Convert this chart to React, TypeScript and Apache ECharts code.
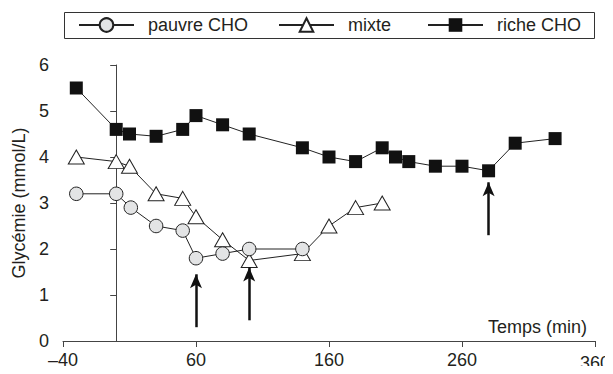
import React, { useEffect, useRef } from "react";
import * as echarts from "echarts";

const pauvreT = [-30, 0, 11, 30, 50, 60, 80, 100, 140];
const pauvreV = [3.2, 3.2, 2.9, 2.5, 2.4, 1.8, 1.9, 2.0, 2.0];

const mixteT = [-30, 0, 10, 30, 50, 60, 80, 100, 140, 160, 180, 200];
const mixteV = [4.0, 3.9, 3.8, 3.2, 3.1, 2.7, 2.2, 1.75, 1.9, 2.5, 2.9, 3.0];

const richeT = [-30, 0, 10, 30, 50, 60, 80, 100, 140, 160, 180, 200, 210, 220, 240, 260, 280, 300, 330];
const richeV = [5.5, 4.6, 4.5, 4.45, 4.6, 4.9, 4.7, 4.5, 4.2, 4.0, 3.9, 4.2, 4.0, 3.9, 3.8, 3.8, 3.7, 4.3, 4.4];

const seriesNames = ["pauvre CHO", "mixte", "riche CHO"];
const xTicks = [-40, 60, 160, 260, 360];
const yTicks = [0, 1, 2, 3, 4, 5, 6];

const arrowX = [60, 100, 280];
const arrowFrom = [0.3, 0.45, 2.3];
const arrowTo = [1.45, 1.6, 3.45];

const vLineX = 0;
const vLineTop = 6.07;

const FONT = "Liberation Sans, Arial, Helvetica, sans-serif";
const TXT = "#231f20";
const AX = "#444";
const legendLefts = [78, 278, 427];

const zip = (t: number[], v: number[]) => t.map((x, i) => [x, v[i]]);

export default function App() {
  const ref = useRef<HTMLDivElement>(null);
  useEffect(() => {
    if (!ref.current) return;
    const chart = echarts.init(ref.current, undefined, { renderer: "svg" });
    const arrows = arrowX.map((x, i) => [
      { coord: [x, arrowFrom[i]], symbol: "none" },
      { coord: [x, arrowTo[i]], symbol: "arrow", symbolSize: [9, 14] },
    ]);
    chart.setOption({
      animation: false,
      textStyle: { fontFamily: FONT, color: TXT },
      graphic: [
        {
          type: "rect",
          shape: { x: 64.5, y: 12.5, width: 530, height: 26 },
          style: { fill: "none", stroke: "#333", lineWidth: 1 },
          silent: true,
        },
      ],
      legend: seriesNames.map((n, i) => ({
        left: legendLefts[i],
        top: 16,
        padding: 0,
        itemWidth: 55,
        itemHeight: 17,
        lineStyle: { width: 2 },
        textStyle: { fontSize: 18, color: TXT, fontFamily: FONT, padding: [0, 0, 0, 9] },
        data: [n],
      })),
      grid: { left: 63, right: 17, top: 65, bottom: 33 },
      xAxis: {
        type: "value",
        min: -40,
        max: 360,
        name: "Temps (min)",
        nameLocation: "end",
        nameGap: -8,
        nameTextStyle: {
          fontSize: 18,
          color: TXT,
          align: "right",
          verticalAlign: "bottom",
          padding: [0, 0, 5, 0],
        },
        splitLine: { show: false },
        axisLine: { show: true, lineStyle: { color: AX, width: 1 } },
        axisTick: { show: true, length: 6, customValues: xTicks, lineStyle: { color: AX } },
        axisLabel: {
          customValues: xTicks,
          fontSize: 18,
          color: TXT,
          margin: 10,
          formatter: (v: number) =>
            v === 360 ? "{low|360}" : String(v).replace("-", "\u2013"),
          rich: { low: { fontSize: 18, color: TXT, padding: [3, 0, 0, 0] } },
        },
      },
      yAxis: {
        type: "value",
        min: 0,
        max: 6,
        interval: 1,
        name: "Glycémie (mmol/L)",
        nameLocation: "middle",
        nameGap: 32,
        nameTextStyle: { fontSize: 18, color: TXT },
        splitLine: { show: false },
        axisLine: { show: true, lineStyle: { color: AX, width: 1 } },
        axisTick: { show: true, length: 6, lineStyle: { color: AX } },
        axisLabel: {
          customValues: yTicks,
          fontSize: 18,
          color: TXT,
          margin: 14,
        },
      },
      series: [
        {
          name: seriesNames[0],
          type: "line",
          data: zip(pauvreT, pauvreV),
          symbol: "circle",
          symbolSize: 13.5,
          itemStyle: { color: "#e3e4e5", borderColor: "#222", borderWidth: 1 },
          lineStyle: { color: "#222", width: 1 },
          z: 3,
        },
        {
          name: seriesNames[1],
          type: "line",
          data: zip(mixteT, mixteV),
          symbol: "triangle",
          symbolSize: [16, 14],
          itemStyle: { color: "#ffffff", borderColor: "#222", borderWidth: 1 },
          lineStyle: { color: "#222", width: 1 },
          z: 2,
        },
        {
          name: seriesNames[2],
          type: "line",
          data: zip(richeT, richeV),
          symbol: "rect",
          symbolSize: 13,
          itemStyle: { color: "#111", borderColor: "#111", borderWidth: 0 },
          lineStyle: { color: "#222", width: 1 },
          z: 4,
          markLine: {
            silent: true,
            animation: false,
            label: { show: false },
            lineStyle: { color: "#111", width: 2.5, type: "solid" },
            symbol: ["none", "none"],
            data: [
              [
                { coord: [vLineX, 0], symbol: "none", lineStyle: { color: "#111", width: 1, type: "solid" } },
                { coord: [vLineX, vLineTop], symbol: "none" },
              ],
              ...arrows,
            ],
          },
        },
      ],
    });
    return () => chart.dispose();
  }, []);
  return <div ref={ref} style={{ width: 613, height: 374, margin: -8 }} />;
}
